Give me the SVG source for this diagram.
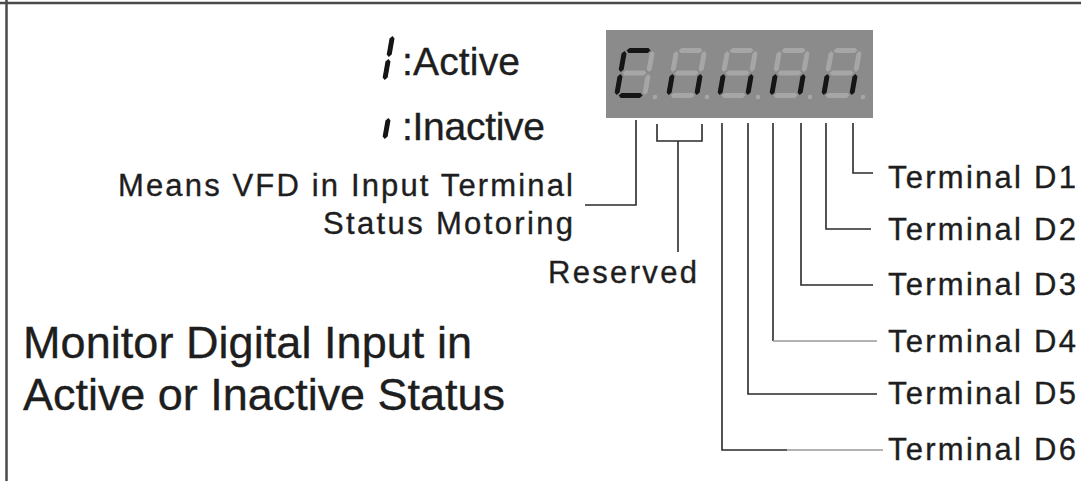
<svg xmlns="http://www.w3.org/2000/svg" xmlns:xlink="http://www.w3.org/1999/xlink" width="1081" height="481" viewBox="0 0 1081 481">
<style>
  .t { font-family: "Liberation Sans", Arial, sans-serif; fill: #1e1e1e; stroke: #1e1e1e; stroke-width: 0.35; }
  .m { font-size: 31px; }
  .b { font-size: 45px; }
  .s { font-size: 39px; }
  .on { fill: #151515; }
  .off { fill: #a6a6a6; }
  .ln { stroke: #2a2a2a; stroke-width: 1.6; fill: none; }
  .lt { stroke: #9a9a9a; stroke-width: 1.6; fill: none; }
  .frame { stroke: #4a4a4a; stroke-width: 2.5; fill: none; }
</style>
<defs>
  <polygon id="sa" points="3,2.5 5.5,0 24.5,0 27,2.5 24.5,5 5.5,5"/>
  <polygon id="sb" points="29,3 31.5,5.5 31.5,21.5 29,24 26.5,21.5 26.5,5.5"/>
  <polygon id="sc" points="29,26 31.5,28.5 31.5,44.5 29,47 26.5,44.5 26.5,28.5"/>
  <polygon id="sd" points="3,47.5 5.5,45 24.5,45 27,47.5 24.5,50 5.5,50"/>
  <polygon id="se" points="1,26 3.5,28.5 3.5,44.5 1,47 -1.5,44.5 -1.5,28.5"/>
  <polygon id="sf" points="1,3 3.5,5.5 3.5,21.5 1,24 -1.5,21.5 -1.5,5.5"/>
  <polygon id="sg" points="3,25 5.5,22.5 24.5,22.5 27,25 24.5,27.5 5.5,27.5"/>
</defs>

<g id="frame">
  <line class="frame" x1="0" y1="3" x2="1081" y2="3"/>
  <line class="frame" x1="6.5" y1="0" x2="6.5" y2="481"/>
</g>

<g id="legend">
  <g transform="translate(364,33) skewX(-10)">
    <use xlink:href="#sb" class="on"/>
    <use xlink:href="#sc" class="on"/>
  </g>
  <text class="t s" x="402" y="75" textLength="118" lengthAdjust="spacing">:Active</text>
  <g transform="translate(364,92) skewX(-10)">
    <use xlink:href="#sc" class="on"/>
  </g>
  <text class="t s" x="402" y="140" textLength="143" lengthAdjust="spacing">:Inactive</text>
</g>

<g id="display">
  <rect x="606" y="30" width="267" height="88" fill="#8b8b8b"/>
  <g transform="translate(624,48) skewX(-10)">
    <use xlink:href="#sa" class="on"/><use xlink:href="#sb" class="off"/><use xlink:href="#sc" class="off"/>
    <use xlink:href="#sd" class="on"/><use xlink:href="#se" class="on"/><use xlink:href="#sf" class="on"/><use xlink:href="#sg" class="off"/>
  </g>
  <g transform="translate(676,48) skewX(-10)">
    <use xlink:href="#sa" class="off"/><use xlink:href="#sb" class="off"/><use xlink:href="#sc" class="on"/>
    <use xlink:href="#sd" class="off"/><use xlink:href="#se" class="on"/><use xlink:href="#sf" class="off"/><use xlink:href="#sg" class="off"/>
  </g>
  <g transform="translate(727,48) skewX(-10)">
    <use xlink:href="#sa" class="off"/><use xlink:href="#sb" class="off"/><use xlink:href="#sc" class="on"/>
    <use xlink:href="#sd" class="off"/><use xlink:href="#se" class="on"/><use xlink:href="#sf" class="off"/><use xlink:href="#sg" class="off"/>
  </g>
  <g transform="translate(779,48) skewX(-10)">
    <use xlink:href="#sa" class="off"/><use xlink:href="#sb" class="off"/><use xlink:href="#sc" class="on"/>
    <use xlink:href="#sd" class="off"/><use xlink:href="#se" class="on"/><use xlink:href="#sf" class="off"/><use xlink:href="#sg" class="off"/>
  </g>
  <g transform="translate(831,48) skewX(-10)">
    <use xlink:href="#sa" class="off"/><use xlink:href="#sb" class="off"/><use xlink:href="#sc" class="on"/>
    <use xlink:href="#sd" class="off"/><use xlink:href="#se" class="on"/><use xlink:href="#sf" class="off"/><use xlink:href="#sg" class="off"/>
  </g>
  <g class="off">
    <circle cx="655" cy="97" r="2.3"/>
    <circle cx="707" cy="97" r="2.3"/>
    <circle cx="758" cy="97" r="2.3"/>
    <circle cx="810" cy="97" r="2.3"/>
    <circle cx="863" cy="97" r="2.3"/>
  </g>
</g>

<g id="connectors">
  <polyline class="ln" points="636,120 636,205 585,205"/>
  <polyline class="ln" points="657,124 657,141 702,141 702,124"/>
  <line class="ln" x1="678" y1="141" x2="678" y2="252"/>
  <polyline class="ln" points="853,123 853,173 873,173"/>
  <polyline class="ln" points="826,123 826,229 871,229"/>
  <polyline class="ln" points="801,123 801,285 873,285"/>
  <line class="ln" x1="773" y1="123" x2="773" y2="341"/>
  <line class="lt" x1="773" y1="341" x2="877" y2="341"/>
  <polyline class="ln" points="748,123 748,394 877,394"/>
  <polyline class="ln" points="722,123 722,450 787,450"/>
  <line class="lt" x1="787" y1="450" x2="883" y2="450"/>
</g>

<g id="labels">
  <text class="t m" x="118" y="196" textLength="455" lengthAdjust="spacing">Means VFD in Input Terminal</text>
  <text class="t m" x="323" y="234" textLength="250" lengthAdjust="spacing">Status Motoring</text>
  <text class="t m" x="548" y="283" textLength="149" lengthAdjust="spacing">Reserved</text>
  <text class="t b" x="23" y="358" textLength="449" lengthAdjust="spacing">Monitor Digital Input in</text>
  <text class="t b" x="23" y="410" textLength="482" lengthAdjust="spacing">Active or Inactive Status</text>
</g>

<g id="terminals">
  <text class="t m" x="888" y="188" textLength="188" lengthAdjust="spacing">Terminal D1</text>
  <text class="t m" x="888" y="240" textLength="188" lengthAdjust="spacing">Terminal D2</text>
  <text class="t m" x="888" y="295" textLength="188" lengthAdjust="spacing">Terminal D3</text>
  <text class="t m" x="888" y="352" textLength="188" lengthAdjust="spacing">Terminal D4</text>
  <text class="t m" x="888" y="404" textLength="188" lengthAdjust="spacing">Terminal D5</text>
  <text class="t m" x="888" y="460" textLength="188" lengthAdjust="spacing">Terminal D6</text>
</g>
</svg>
